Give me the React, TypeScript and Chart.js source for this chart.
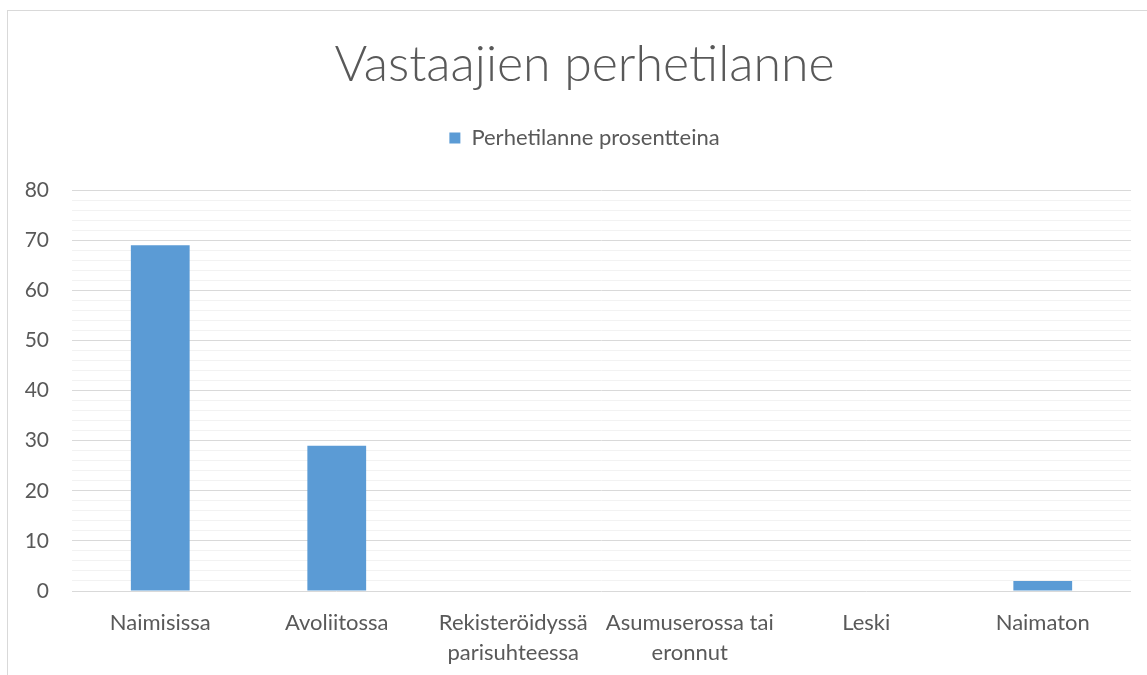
import React, { useEffect, useRef } from "react";
import { Chart, registerables } from "chart.js";

Chart.register(...registerables);

const titleText = "Vastaajien perhetilanne";
const seriesName = "Perhetilanne prosentteina";
const categories: (string | string[])[] = [
  "Naimisissa",
  "Avoliitossa",
  ["Rekisteröidyssä", "parisuhteessa"],
  ["Asumuserossa tai", "eronnut"],
  "Leski",
  "Naimaton",
];
const values = [69, 29, 0, 0, 0, 2];
const yMin = 0;
const yMax = 80;
const yMinorStep = 2;
const yMajorStep = 10;

const FONT = "Lato, 'Noto Sans', sans-serif";
const TEXT = "#595959";

const headerShift = {
  id: "headerShift",
  beforeInit(chart: any) {
    const lg = chart.legend;
    if (!lg) return;
    const orig = lg.fit;
    lg.fit = function () {
      orig.call(lg);
      lg.height += 31;
    };
  },
  afterLayout(chart: any) {
    const dx = 19;
    for (const box of [chart.titleBlock, chart.legend]) {
      if (box) {
        box.left += dx;
        box.right += dx;
      }
    }
  },
};

export default function App() {
  const ref = useRef<HTMLCanvasElement | null>(null);

  useEffect(() => {
    document.body.style.margin = "0";
    const canvas = ref.current!;
    const chart = new Chart(canvas, {
      type: "bar",
      data: {
        labels: categories,
        datasets: [
          {
            label: seriesName,
            data: values,
            backgroundColor: "#5B9BD5",
            borderWidth: 0,
            barPercentage: 0.333,
            categoryPercentage: 1,
          },
        ],
      },
      plugins: [headerShift],
      options: {
        responsive: false,
        animation: false,
        layout: { padding: { left: 0, right: 16, top: 35, bottom: 0 } },
        plugins: {
          title: {
            display: true,
            text: titleText,
            color: TEXT,
            font: { family: FONT, size: 50, weight: 300, lineHeight: 1.2 },
            padding: { top: 0, bottom: 22 },
          },
          legend: {
            display: true,
            position: "top",
            labels: {
              color: TEXT,
              font: { family: FONT, size: 22 },
              boxWidth: 11,
              boxHeight: 11,
              padding: 10,
            },
          },
          tooltip: { enabled: false },
        },
        scales: {
          x: {
            grid: { display: false },
            border: { display: false },
            ticks: {
              color: TEXT,
              font: { family: FONT, size: 22, lineHeight: 1.36 },
              padding: 9,
              maxRotation: 0,
              autoSkip: false,
            },
            afterFit: (s: any) => {
              s.height = 84;
            },
          },
          y: {
            min: yMin,
            max: yMax,
            border: { display: false },
            grid: {
              drawTicks: false,
              color: (ctx: any) =>
                ctx.tick && ctx.tick.value % yMajorStep === 0 ? "#D9D9D9" : "#F2F2F2",
              lineWidth: 1,
            },
            ticks: {
              stepSize: yMinorStep,
              autoSkip: false,
              maxTicksLimit: 100,
              color: TEXT,
              font: { family: FONT, size: 21 },
              padding: 23,
              callback: (v: any) => (Number(v) % yMajorStep === 0 ? String(v) : ""),
            },
            afterFit: (s: any) => {
              s.width = 72;
            },
          },
        },
      },
    });
    return () => chart.destroy();
  }, []);

  return (
    <div
      style={{
        position: "fixed",
        left: 0,
        top: 0,
        width: 1147,
        height: 675,
        overflow: "hidden",
        background: "#fff",
      }}
    >
      <div
        style={{
          position: "absolute",
          left: 7,
          top: 10,
          width: 1400,
          height: 900,
          border: "1px solid #D9D9D9",
        }}
      />
      <canvas
        ref={ref}
        width={1147}
        height={675}
        style={{ position: "absolute", left: 0, top: 0, width: 1147, height: 675 }}
      />
    </div>
  );
}
